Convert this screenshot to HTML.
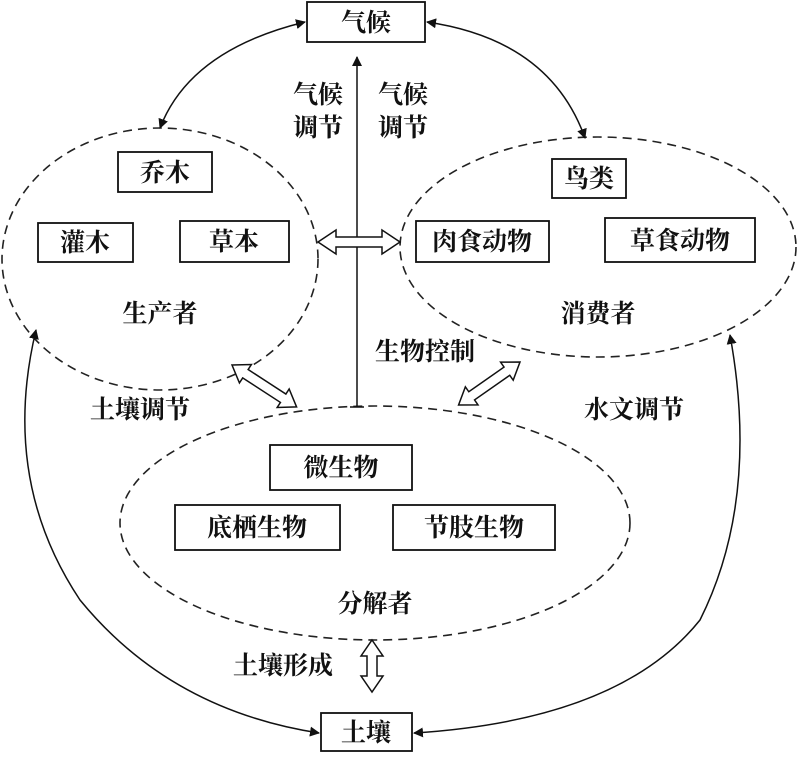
<!DOCTYPE html>
<html><head><meta charset="utf-8"><style>
html,body{margin:0;padding:0;background:#fff;}
text{font-family:"Liberation Serif","Noto Serif CJK SC","Noto Sans CJK SC",serif;font-size:25px;font-weight:bold;fill:#111;}
</style></head><body>
<svg width="800" height="752" viewBox="0 0 800 752" xmlns="http://www.w3.org/2000/svg">
<defs>
<marker id="ah" markerWidth="10" markerHeight="10" refX="9" refY="5" orient="auto-start-reverse" markerUnits="userSpaceOnUse"><path d="M0,0 L10,5 L0,10 z" fill="#111"/></marker>
</defs>
<g fill="none" stroke="#222" stroke-width="1.6" stroke-dasharray="9,6">
<ellipse cx="160" cy="259" rx="158" ry="131"/>
<ellipse cx="598" cy="247" rx="198" ry="110"/>
<ellipse cx="375" cy="523" rx="255" ry="117"/>
</g>
<g fill="none" stroke="#111" stroke-width="1.5">
<path d="M305,22 Q190,50 160,128" marker-start="url(#ah)" marker-end="url(#ah)"/>
<path d="M427,22 Q550,40 585,138" marker-start="url(#ah)" marker-end="url(#ah)"/>
<path d="M36,330 Q0,480 80,600 Q170,710 319,733" marker-start="url(#ah)" marker-end="url(#ah)"/>
<path d="M730,335 Q760,500 700,620 Q620,720 414,733" marker-start="url(#ah)" marker-end="url(#ah)"/>
<path d="M357,407 L357,57" marker-end="url(#ah)"/>
<path d="M350,407 L364,407"/>
</g>
<g fill="#fff" stroke="#111" stroke-width="1.5">
<polygon points="318,242 336,230 336,237 382,237 382,230 400,242 382,254 382,247 336,247 336,254"/>
<g transform="translate(232,365) rotate(33)"><polygon points="0,0 16,-11 16,-5 61,-5 61,-11 77,0 61,11 61,5 16,5 16,11"/></g>
<g transform="translate(520,362) rotate(145)"><polygon points="0,0 16,-11 16,-5 59,-5 59,-11 75,0 59,11 59,5 16,5 16,11"/></g>
<g transform="translate(372,640) rotate(90)"><polygon points="0,0 16,-11 16,-5 36,-5 36,-11 52,0 36,11 36,5 16,5 16,11"/></g>
</g>
<g fill="#fff" stroke="#111" stroke-width="1.8">
<rect x="307" y="2" width="118" height="40"/>
<rect x="118" y="152" width="94" height="40"/>
<rect x="552" y="159" width="74" height="39"/>
<rect x="38" y="223" width="95" height="39"/>
<rect x="180" y="221" width="109" height="41"/>
<rect x="416" y="221" width="133" height="41"/>
<rect x="605" y="218" width="150" height="44"/>
<rect x="270" y="445" width="142" height="45"/>
<rect x="175" y="505" width="165" height="45"/>
<rect x="393" y="505" width="162" height="45"/>
<rect x="321" y="713" width="91" height="38"/>
</g>
<g text-anchor="middle">
<text x="366" y="31">气候</text>
<text x="165" y="181">乔木</text>
<text x="589" y="187">鸟类</text>
<text x="85" y="251">灌木</text>
<text x="234" y="250">草本</text>
<text x="482" y="250">肉食动物</text>
<text x="680" y="249">草食动物</text>
<text x="341" y="476">微生物</text>
<text x="257" y="536">底栖生物</text>
<text x="474" y="536">节肢生物</text>
<text x="366" y="741">土壤</text>
<text x="318" y="103">气候</text>
<text x="318" y="136">调节</text>
<text x="403" y="103">气候</text>
<text x="403" y="136">调节</text>
<text x="160" y="322">生产者</text>
<text x="598" y="322">消费者</text>
<text x="375" y="612">分解者</text>
<text x="140" y="418">土壤调节</text>
<text x="634" y="418">水文调节</text>
<text x="425" y="360">生物控制</text>
<text x="283" y="674">土壤形成</text>
</g>
</svg>
</body></html>
